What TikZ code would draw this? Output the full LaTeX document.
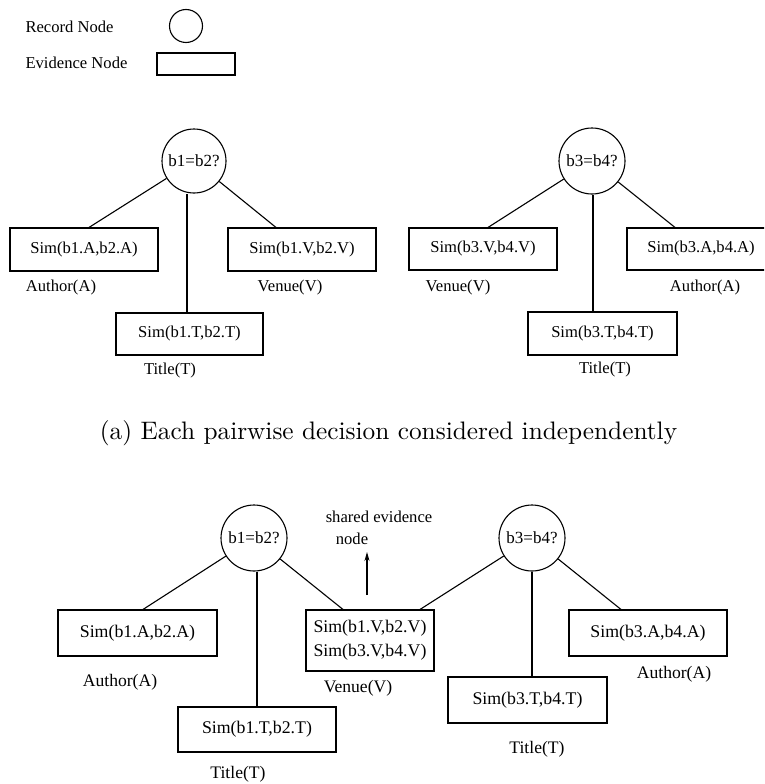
\documentclass[tikz,border=0pt]{standalone}
\usepackage{fontspec}
\usepackage{graphicx}
\newfontfamily\tms{Liberation Serif}
\usetikzlibrary{arrows.meta}
\begin{document}
\begin{tikzpicture}[x=1pt,y=-1pt,line width=1.1pt,
  rec/.style={draw,circle,inner sep=0pt,minimum size=#1,font=\tms\fontsize{17}{19}\selectfont},
  evA/.style={draw,rectangle,inner sep=0pt,font=\tms\fontsize{16.6}{19}\selectfont},
  evB/.style={draw,rectangle,inner sep=0pt,align=center,font=\tms\fontsize{17.8}{24}\selectfont},
  lblA/.style={inner sep=0pt,font=\tms\fontsize{16.6}{19}\selectfont},
  lblB/.style={inner sep=0pt,font=\tms\fontsize{17.6}{19}\selectfont}]
\useasboundingbox (0,0) rectangle (764,784);
\clip (0,0) rectangle (764,784);
% legend
\node[lblA,anchor=west] (lrec) at (25,27) {Record Node};
\node[lblA,anchor=west] (lev) at (25,63) {Evidence Node};
\node[rec=33pt] (legc) at (186,26) {};
\node[evA,minimum width=78pt,minimum height=22pt] (legr) at (196,64) {};
% top left tree
\node[rec=64pt] (c1) at (194,161) {b1=b2?};
\node[evA,minimum width=148pt,minimum height=43pt] (rA1) at (84,249.5) {Sim(b1.A,b2.A)};
\node[evA,minimum width=148pt,minimum height=43pt] (rV1) at (302,249.5) {Sim(b1.V,b2.V)};
\node[evA,minimum width=147pt,minimum height=42pt] (rT1) at (189.5,334) {Sim(b1.T,b2.T)};
\node[lblA] (lA1) at (61,288) {Author(A)};
\node[lblA] (lV1) at (290,288) {Venue(V)};
\node[lblA] (lT1) at (170,371) {Title(T)};
\coordinate (pA1) at ([xshift=5pt]rA1.north);
\coordinate (pV1) at ([xshift=-26pt]rV1.north);
\coordinate (pT1) at ([xshift=-2.5pt]rT1.north);
\draw (c1) -- (pA1);
\draw (c1) -- (pV1);
\draw (pT1) -- (pT1 |- c1.south);
% top right tree
\node[rec=66pt] (c2) at (592,161) {b3=b4?};
\node[evA,minimum width=148pt,minimum height=42pt] (rV2) at (483,249) {Sim(b3.V,b4.V)};
\node[evA,minimum width=148pt,minimum height=42pt] (rA2) at (701,249) {Sim(b3.A,b4.A)};
\node[evA,minimum width=149pt,minimum height=43pt] (rT2) at (602.5,333.5) {Sim(b3.T,b4.T)};
\node[lblA] (lV2) at (458,288) {Venue(V)};
\node[lblA] (lA2) at (705,288) {Author(A)};
\node[lblA] (lT2) at (605,370) {Title(T)};
\coordinate (pV2) at ([xshift=5pt]rV2.north);
\coordinate (pA2) at ([xshift=-26pt]rA2.north);
\coordinate (pT2) at ([xshift=-9.5pt]rT2.north);
\draw (c2) -- (pV2);
\draw (c2) -- (pA2);
\draw (pT2) -- (pT2 |- c2.south);
% caption
\node[inner sep=0pt] (cap) at (388.5,433) {\scalebox{2.53}{\fontsize{10}{12}\selectfont (a) Each pairwise decision considered independently}};
% bottom
\node[rec=66pt] (c3) at (254,538) {b1=b2?};
\node[rec=66pt] (c4) at (532,538) {b3=b4?};
\node[evB,minimum width=159pt,minimum height=46pt] (rA3) at (137.5,633) {Sim(b1.A,b2.A)};
\node[evB,minimum width=158pt,minimum height=45pt] (rT3) at (257,729.5) {Sim(b1.T,b2.T)};
\node[evB,minimum width=128pt,minimum height=61pt] (rS) at (370,640.5) {Sim(b1.V,b2.V)\\Sim(b3.V,b4.V)};
\node[evB,minimum width=158pt,minimum height=46pt] (rA4) at (648,633) {Sim(b3.A,b4.A)};
\node[evB,minimum width=159pt,minimum height=46pt] (rT4) at (527.5,700) {Sim(b3.T,b4.T)};
\node[lblB] (lA3) at (120,682) {Author(A)};
\node[lblB] (lT3) at (238,774) {Title(T)};
\node[lblB] (lV3) at (358,688) {Venue(V)};
\node[lblB] (lA4) at (674,674) {Author(A)};
\node[lblB] (lT4) at (537,749) {Title(T)};
\node[lblA] (sh1) at (379,517) {shared evidence};
\node[lblA] (sh2) at (352,539) {node};
\coordinate (arB) at (367,595);
\coordinate (arT) at (367,552);
\draw[-{Stealth[length=9pt,width=5pt]}] (arB) -- (arT);
\coordinate (pA3) at ([xshift=5.5pt]rA3.north);
\coordinate (pS3) at ([xshift=-27pt]rS.north);
\coordinate (pS4) at ([xshift=50pt]rS.north);
\coordinate (pA4) at ([xshift=-27pt]rA4.north);
\draw (c3) -- (pA3);
\draw (c3) -- (pS3);
\draw (c3.south -| rT3.north) -- (rT3.north);
\draw (c4) -- (pS4);
\draw (c4) -- (pA4);
\draw (rT4.north -| c4.south) -- (c4.south);
\end{tikzpicture}
\end{document}
